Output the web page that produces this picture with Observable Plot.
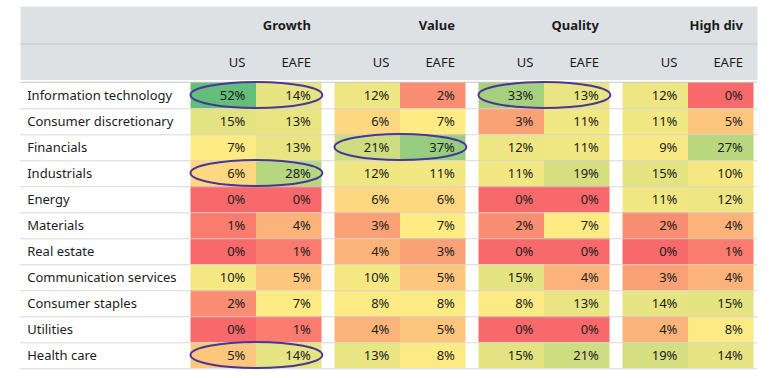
<!DOCTYPE html>
<html>
<head>
<meta charset="utf-8">
<script src="https://cdn.jsdelivr.net/npm/d3@7"></script>
<script src="https://cdn.jsdelivr.net/npm/@observablehq/plot@0.6"></script>
<style>
  html, body { margin: 0; padding: 0; background: #fff; }
  #chart svg { display: block; }
</style>
</head>
<body>
<div id="chart"></div>
<script>
const sectors = ["Information technology","Consumer discretionary","Financials","Industrials","Energy","Materials","Real estate","Communication services","Consumer staples","Utilities","Health care"];
const groups = ["Growth","Value","Quality","High div"];
const markets = ["US","EAFE"];
const growthUS    = [52,15,7,6,0,1,0,10,2,0,5];
const growthEAFE  = [14,13,13,28,0,4,1,5,7,1,14];
const valueUS     = [12,6,21,12,6,3,4,10,8,4,13];
const valueEAFE   = [2,7,37,11,6,7,3,5,8,5,8];
const qualityUS   = [33,3,12,11,0,2,0,15,8,0,15];
const qualityEAFE = [13,11,11,19,0,7,0,4,13,0,21];
const highDivUS   = [12,11,9,15,11,2,0,3,14,4,19];
const highDivEAFE = [0,5,27,10,12,4,1,4,15,8,14];
const highlights = [
  ["Information technology","Growth"],
  ["Information technology","Quality"],
  ["Financials","Value"],
  ["Industrials","Growth"],
  ["Health care","Growth"]
];

const series = {
  "Growth|US": growthUS, "Growth|EAFE": growthEAFE,
  "Value|US": valueUS, "Value|EAFE": valueEAFE,
  "Quality|US": qualityUS, "Quality|EAFE": qualityEAFE,
  "High div|US": highDivUS, "High div|EAFE": highDivEAFE
};
const columns = groups.flatMap(g => markets.map(m => g + "|" + m));
const table = columns.flatMap(col => sectors.map((s, i) => ({
  col, sector: s, market: col.split("|")[1], value: series[col][i]
})));
const headerCols = columns.map(col => ({col, group: col.split("|")[0], market: col.split("|")[1]}));
const hl = highlights.map(([sector, group]) => ({sector, col: group + "|US"}));

const W = 783, H = 378;
const mL = 181, mR = 19.5, mT = 79.5, mB = 7;
const step = (W - mL - mR) / columns.length;
const gap = 6.5;
const innerH = H - mT - mB;
const rowStep = innerH / sectors.length;
const labelInset = -(mL - 20);
const pad = 11.5;
const font = "'Noto Sans', 'Open Sans', sans-serif";
const ink = "#1c1c1c";

const chart = Plot.plot({
  width: W, height: H,
  marginLeft: mL, marginRight: mR, marginTop: mT, marginBottom: mB,
  style: {fontFamily: font, fontSize: "13px", color: ink, background: "#fff"},
  x: {type: "band", domain: columns, padding: 0, axis: null},
  y: {type: "band", domain: sectors, padding: 0, axis: null},
  color: {type: "linear", domain: [0, 7, 52], range: ["#f8696b", "#ffeb84", "#63be7b"], interpolate: "rgb"},
  marks: [
    // header background
    Plot.frame({fill: "#dde1e4", stroke: "none", insetTop: -(mT - 6), insetBottom: innerH, insetLeft: labelInset, insetRight: gap}),
    // header separator
    Plot.frame({fill: "#c3c7cb", stroke: "none", insetTop: -(mT - 43), insetBottom: innerH + (mT - 43) - 1, insetLeft: labelInset, insetRight: gap}),
    // cells
    Plot.cell(table.filter(d => d.market === "US"), {x: "col", y: "sector", fill: "value", insetLeft: gap}),
    Plot.cell(table.filter(d => d.market === "EAFE"), {x: "col", y: "sector", fill: "value", insetRight: gap}),
    // row lines
    Plot.ruleY(sectors, {y: d => d, dy: rowStep / 2, insetLeft: labelInset, insetRight: gap, stroke: "#d4d4d4", strokeOpacity: 0.9}),
    Plot.ruleY([sectors[0]], {y: d => d, dy: -rowStep / 2, insetLeft: labelInset, insetRight: gap, stroke: "#c3c7cb"}),
    // values
    Plot.text(table.filter(d => d.market === "US"), {x: "col", y: "sector", text: d => d.value + "%", textAnchor: "end", dx: step / 2 - pad, fill: ink}),
    Plot.text(table.filter(d => d.market === "EAFE"), {x: "col", y: "sector", text: d => d.value + "%", textAnchor: "end", dx: step / 2 - gap - pad, fill: ink}),
    // row labels
    Plot.text(sectors, {y: d => d, text: d => d, frameAnchor: "left", textAnchor: "start", dx: 26.7 - mL, fill: ink}),
    // column headers
    Plot.text(headerCols.filter(d => d.market === "US"), {x: "col", text: "market", frameAnchor: "top", lineAnchor: "middle", dy: -17.5, textAnchor: "end", dx: step / 2 - pad, fill: ink}),
    Plot.text(headerCols.filter(d => d.market === "EAFE"), {x: "col", text: "market", frameAnchor: "top", lineAnchor: "middle", dy: -17.5, textAnchor: "end", dx: step / 2 - gap - pad, fill: ink}),
    Plot.text(headerCols.filter(d => d.market === "EAFE"), {x: "col", text: "group", frameAnchor: "top", lineAnchor: "middle", dy: -54.5, textAnchor: "end", dx: step / 2 - gap - pad, fontWeight: "bold", fill: ink}),
    // highlight ellipses
    Plot.cell(hl, {x: "col", y: "sector", fill: "none", stroke: "#4b3596", strokeWidth: 2, insetLeft: gap, insetRight: -(step - gap), rx: 200, ry: 200})
  ]
});
document.getElementById("chart").appendChild(chart);
</script>
</body>
</html>
